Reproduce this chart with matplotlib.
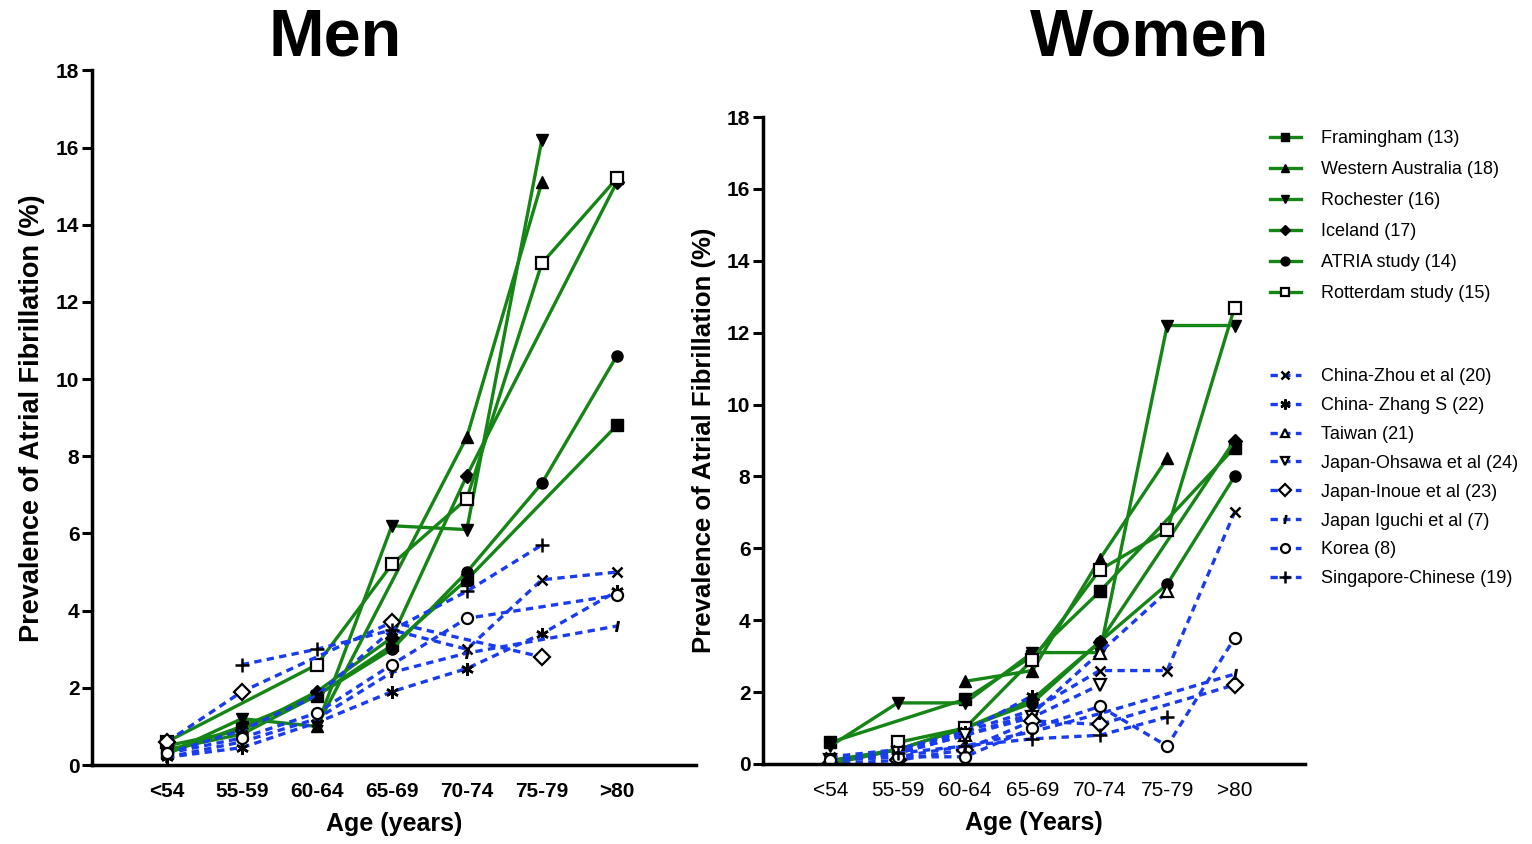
import numpy as np
import matplotlib
matplotlib.use("Agg")
import matplotlib.pyplot as plt
from matplotlib.lines import Line2D

plt.rcParams['font.family'] = ['Liberation Sans', 'DejaVu Sans']

nan = np.nan
age_groups = ["<54", "55-59", "60-64", "65-69", "70-74", "75-79", ">80"]

# Western cohorts (green, solid)
western_names = ["Framingham (13)", "Western Australia (18)", "Rochester (16)",
                 "Iceland (17)", "ATRIA study (14)", "Rotterdam study (15)"]
men_framingham = [0.3, 1.0, 1.8, 3.1, 4.8, nan, 8.8]
men_w_australia = [nan, nan, 1.0, nan, 8.5, 15.1, nan]
men_rochester = [0.3, 1.2, 1.0, 6.2, 6.1, 16.2, nan]
men_iceland = [0.5, 0.9, 1.9, 3.3, 7.5, nan, 15.1]
men_atria = [0.4, 0.8, 1.8, 3.0, 5.0, 7.3, 10.6]
men_rotterdam = [0.6, nan, 2.6, 5.2, 6.9, 13.0, 15.2]

women_framingham = [0.6, nan, 1.8, 3.0, 4.8, nan, 8.8]
women_w_australia = [nan, nan, 2.3, 2.6, 5.7, 8.5, nan]
women_rochester = [0.5, 1.7, 1.7, 3.1, 3.1, 12.2, 12.2]
women_iceland = [0.0, 0.4, 1.0, 1.8, 3.4, nan, 9.0]
women_atria = [0.1, 0.4, 1.0, 1.7, 3.4, 5.0, 8.0]
women_rotterdam = [nan, 0.6, 1.0, 2.9, 5.4, 6.5, 12.7]

# Asian cohorts (blue, dashed)
asian_names = ["China-Zhou et al (20)", "China- Zhang S (22)", "Taiwan (21)",
               "Japan-Ohsawa et al (24)", "Japan-Inoue et al (23)",
               "Japan Iguchi et al (7)", "Korea (8)", "Singapore-Chinese (19)"]
men_zhou = [0.3, 0.9, 1.8, 3.5, 3.0, 4.8, 5.0]
men_zhang = [0.2, 0.45, 1.1, 1.9, 2.5, 3.4, 4.5]
men_taiwan = [nan] * 7
men_ohsawa = [nan] * 7
men_inoue = [0.6, 1.9, nan, 3.7, nan, 2.8, nan]
men_iguchi = [0.2, 0.6, 1.2, 2.4, 2.9, nan, 3.6]
men_korea = [0.3, 0.7, 1.35, 2.6, 3.8, nan, 4.4]
men_singapore = [nan, 2.6, 3.0, 3.5, 4.5, 5.7, nan]

women_zhou = [0.2, 0.4, 0.9, 1.5, 2.6, 2.6, 7.0]
women_zhang = [0.1, 0.3, 0.9, 1.9, nan, nan, nan]
women_taiwan = [0.1, 0.3, 0.8, 1.4, 3.1, 4.8, nan]
women_ohsawa = [0.1, 0.3, 0.8, 1.3, 2.2, nan, nan]
women_inoue = [0.0, 0.1, 0.4, 1.2, 1.1, nan, 2.2]
women_iguchi = [0.1, 0.2, 0.5, 0.9, 1.4, nan, 2.5]
women_korea = [0.1, 0.2, 0.2, 1.0, 1.6, 0.5, 3.5]
women_singapore = [nan, 0.3, 0.5, 0.7, 0.8, 1.3, nan]

men_western = [men_framingham, men_w_australia, men_rochester,
               men_iceland, men_atria, men_rotterdam]
women_western = [women_framingham, women_w_australia, women_rochester,
                 women_iceland, women_atria, women_rotterdam]
men_asian = [men_zhou, men_zhang, men_taiwan, men_ohsawa,
             men_inoue, men_iguchi, men_korea, men_singapore]
women_asian = [women_zhou, women_zhang, women_taiwan, women_ohsawa,
               women_inoue, women_iguchi, women_korea, women_singapore]

GREEN = "#158515"
BLUE = "#1a3cf0"
ASTERISK = (6, 2, 0)

western_style = [
    dict(marker="s", ms=8, mfc="black"),
    dict(marker="^", ms=8, mfc="black"),
    dict(marker="v", ms=8, mfc="black"),
    dict(marker="D", ms=7, mfc="black"),
    dict(marker="o", ms=8, mfc="black"),
    dict(marker="s", ms=8, mfc="white", mew=1.6),
]
asian_style = [
    dict(marker="x", ms=7, mew=1.8),
    dict(marker=ASTERISK, ms=9, mew=1.8),
    dict(marker="^", ms=8, mfc="white", mew=1.6),
    dict(marker="v", ms=8, mfc="white", mew=1.6),
    dict(marker="D", ms=8, mfc="white", mew=1.6),
    dict(marker="$\\imath$", ms=7),
    dict(marker="o", ms=8, mfc="white", mew=1.6),
    dict(marker="+", ms=10, mew=1.8),
]


def draw_series(ax, values, color, ls, style):
    y = np.array(values, dtype=float)
    x = np.arange(len(y))
    ok = ~np.isnan(y)
    if not ok.any():
        return
    kw = dict(mec="black", mfc="black")
    kw.update(style)
    ax.plot(x[ok], y[ok], color=color, lw=2.4, ls=ls, zorder=2, **kw)


def style_axes(ax, bold_xticks):
    ax.set_xlim(-1, 7.05)
    ax.set_ylim(0, 18)
    ax.set_yticks(range(0, 19, 2))
    ax.set_xticks(range(len(age_groups)))
    ax.set_xticklabels(age_groups, fontsize=15,
                       fontweight="bold" if bold_xticks else "normal")
    for lab in ax.get_yticklabels():
        lab.set_fontweight("bold")
        lab.set_fontsize(15)
    ax.spines["top"].set_visible(False)
    ax.spines["right"].set_visible(False)
    ax.spines["left"].set_linewidth(2.5)
    ax.spines["bottom"].set_linewidth(2.5)
    ax.tick_params(axis="y", length=7, width=2.2, pad=2)
    ax.tick_params(axis="x", length=0, pad=12)


dash = (0, (2.2, 1.6))

fig = plt.figure(figsize=(15.32, 8.44), dpi=100)
ax1 = fig.add_axes([0.060, 0.0936, 0.394, 0.823])
ax2 = fig.add_axes([0.498, 0.0948, 0.354, 0.7665])

for vals, st in zip(men_western, western_style):
    draw_series(ax1, vals, GREEN, "-", st)
for vals, st in zip(men_asian, asian_style):
    draw_series(ax1, vals, BLUE, dash, st)
for vals, st in zip(women_western, western_style):
    draw_series(ax2, vals, GREEN, "-", st)
for vals, st in zip(women_asian, asian_style):
    draw_series(ax2, vals, BLUE, dash, st)

style_axes(ax1, True)
style_axes(ax2, False)

ax1.set_ylabel("Prevalence of Atrial Fibrillation (%)", fontsize=19.5,
               fontweight="bold", labelpad=8)
ax1.set_xlabel("Age (years)", fontsize=18, fontweight="bold", labelpad=8)
ax2.set_ylabel("Prevalence of Atrial Fibrillation (%)", fontsize=18.5,
               fontweight="bold", labelpad=8)
ax2.set_xlabel("Age (Years)", fontsize=18, fontweight="bold", labelpad=8)

fig.text(335 / 1532, 1 - 39 / 844, "Men", fontsize=48, fontweight="bold",
         ha="center", va="center")
fig.text(1150 / 1532, 1 - 39 / 844, "Women", fontsize=48, fontweight="bold",
         ha="center", va="center")

# legends: western cohorts on top, Asian cohorts below
def legend_handle(color, ls, style):
    kw = dict(mec="black", mfc="black")
    kw.update(style)
    kw["ms"] = kw["ms"] * 0.8
    return Line2D([], [], color=color, lw=2.4, ls=ls, **kw)

g_handles = [legend_handle(GREEN, "-", st) for st in western_style]
b_handles = [legend_handle(BLUE, dash, st) for st in asian_style]

leg1 = fig.legend(g_handles, western_names, loc="upper left",
                  bbox_to_anchor=(1270 / 1532, 1 - 130 / 844), frameon=False,
                  fontsize=13, handlelength=1.7, handletextpad=1.1,
                  labelspacing=0.78, borderpad=0, borderaxespad=0)
leg2 = fig.legend(b_handles, asian_names, loc="upper left",
                  bbox_to_anchor=(1270 / 1532, 1 - 368 / 844), frameon=False,
                  fontsize=13, handlelength=1.7, handletextpad=1.1,
                  labelspacing=0.66, borderpad=0, borderaxespad=0)

fig.savefig("out.png", dpi=100)
